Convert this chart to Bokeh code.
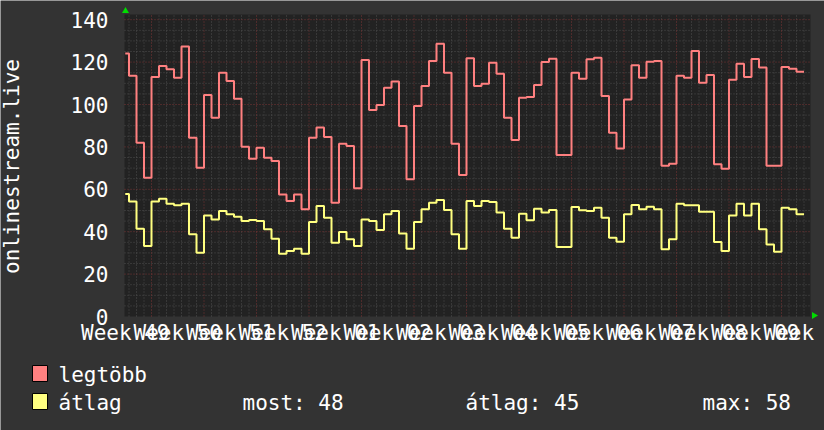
from math import pi
from bokeh.plotting import figure
from bokeh.models import Range1d, FixedTicker
from bokeh.core.properties import value
from bokeh.embed import file_html
from bokeh.resources import INLINE

# ---- data (daily values) ----
legtobb = [124.0, 113.6, 82.0, 65.5, 113.0, 118.2, 116.6, 112.6, 127.3, 84.3,
           70.2, 104.5, 93.8, 115.0, 111.1, 102.7, 80.1, 74.4, 79.6, 74.9,
           73.3, 57.6, 54.5, 57.6, 50.6, 84.3, 89.1, 84.7, 53.7, 81.5,
           80.4, 60.5, 121.0, 97.4, 99.8, 107.9, 110.8, 89.9, 64.7, 99.3,
           108.7, 120.5, 128.7, 115.0, 81.5, 66.7, 121.8, 108.7, 109.8, 119.7,
           114.5, 93.8, 83.3, 103.2, 103.5, 109.2, 120.0, 121.6, 76.2, 76.2,
           115.0, 112.2, 121.3, 122.1, 104.0, 86.7, 79.2, 102.3, 118.5, 112.6,
           120.2, 120.5, 71.1, 72.1, 113.6, 112.6, 125.2, 110.3, 113.9, 71.8,
           69.7, 111.7, 119.2, 113.0, 121.5, 117.4, 71.1, 71.1, 117.7, 116.9,
           115.5]
atlag = [57.8, 54.2, 41.4, 33.3, 54.2, 55.6, 53.2, 52.5, 53.2, 38.8,
         30.1, 47.7, 45.8, 49.8, 48.2, 47.1, 45.0, 45.5, 45.0, 41.1,
         36.7, 29.6, 30.9, 32.0, 29.6, 44.6, 52.1, 46.6, 34.8, 39.9,
         36.4, 33.3, 45.8, 45.0, 40.8, 48.2, 49.8, 39.1, 32.0, 44.6,
         50.6, 53.7, 55.0, 50.2, 38.8, 32.0, 54.5, 52.1, 54.5, 54.0,
         49.0, 41.4, 37.2, 48.5, 45.4, 50.8, 49.0, 50.2, 32.8, 32.8,
         51.7, 50.1, 49.8, 51.3, 46.6, 37.2, 35.3, 48.2, 52.6, 50.6,
         51.8, 50.6, 31.7, 36.4, 53.2, 52.5, 52.5, 49.4, 49.4, 35.1,
         30.9, 47.7, 53.2, 47.7, 53.2, 41.1, 34.0, 30.6, 51.3, 50.6,
         48.2]
week_labels = ["Week 49", "Week 50", "Week 51", "Week 52", "Week 01", "Week 02",
               "Week 03", "Week 04", "Week 05", "Week 06", "Week 07", "Week 08",
               "Week 09", "Week"]
y_ticks = [0, 20, 40, 60, 80, 100, 120, 140]
series_names = ["legtöbb", "átlag"]
y_title = "onlinestream.live"

# ---- geometry (canvas pixels -> data units) ----
W, H = 824, 430
PX_DAY = 7.5          # pixels per day
PX_UNIT = 2.12        # pixels per value unit
DAY1_PX = 128.5       # canvas x of the first midnight (x = 1)
ZERO_PX = 316.0       # canvas y of value 0

def dx(px):
    return 1 + (px - DAY1_PX) / PX_DAY

def dy(py):
    return (ZERO_PX - py) / PX_UNIT

X0 = dx(124)
X_PLOT_END = dx(810)
Y_PLOT_END = dy(14)

FONT = "DejaVu Sans Mono"
FS = "21px"
WHITE = "#ffffff"
RED = "#ff8080"
YEL = "#ffff80"
BACK = "#333333"
CANVAS = "#222222"
GREEN = "#00dd00"

p = figure(width=W, height=H, output_backend="svg", toolbar_location=None,
           x_range=Range1d(dx(0), dx(W)), y_range=Range1d(dy(H), dy(0)),
           min_border=0, background_fill_color=BACK, border_fill_color=BACK,
           outline_line_color=None)
p.grid.grid_line_color = None

# plot area
p.quad(left=[X0], right=[X_PLOT_END], bottom=[0], top=[Y_PLOT_END],
       fill_color=CANVAS, line_color=None)

n_days = len(legtobb)
major_x = [d for d in range(1, n_days + 1) if (d - 4) % 7 == 0]
minor_x = [d for d in range(1, n_days + 1) if (d - 4) % 7 != 0]
minor_y = [v for v in range(5, 145, 5) if v % 20 != 0]
major_y = [v for v in y_ticks if v > 0]

def vlines(xs, color):
    p.segment(x0=xs, y0=[0] * len(xs), x1=xs, y1=[Y_PLOT_END] * len(xs),
              line_color=color, line_dash="1 2", line_width=1)

def hlines(ys, color):
    p.segment(x0=[X0] * len(ys), y0=ys, x1=[X_PLOT_END] * len(ys), y1=ys,
              line_color=color, line_dash="1 2", line_width=1)

vlines(minor_x, "#4e4e4e")
hlines(minor_y, "#4e4e4e")
vlines(major_x, "#7a3535")
hlines(major_y, "#7a3535")

# step series
xs = [X0 + 0.1] + list(range(1, n_days + 1))
p.step(xs, legtobb + [legtobb[-1]], mode="after", line_color=RED, line_width=2)
p.step(xs, atlag + [atlag[-1]], mode="after", line_color=YEL, line_width=2)

# axis arrows
p.scatter([dx(125)], [dy(10.5)], marker="triangle", size=7,
          fill_color=GREEN, line_color=None)
p.scatter([dx(813.5)], [dy(315)], marker="triangle", size=7, angle=-pi / 2,
          fill_color=GREEN, line_color=None)

# axes, fixed inside the canvas
label_ticks = [0.5 + 7 * k for k in range(len(week_labels) - 1)] + [88.97]
p.xaxis.fixed_location = 0
p.yaxis.fixed_location = X0
p.xaxis.ticker = FixedTicker(ticks=label_ticks)
p.xaxis.major_label_overrides = {t: lab for t, lab in zip(label_ticks, week_labels)}
p.yaxis.ticker = FixedTicker(ticks=y_ticks)
for ax in (p.xaxis, p.yaxis):
    ax.axis_line_color = None
    ax.major_tick_line_color = None
    ax.minor_tick_line_color = None
    ax.major_tick_out = 0
    ax.major_tick_in = 0
    ax.major_label_text_font = FONT
    ax.major_label_text_font_size = FS
    ax.major_label_text_color = WHITE
p.xaxis.major_label_standoff = 4
p.yaxis.major_label_standoff = 16

# y title
p.text(x=[dx(11.7)], y=[dy(166)], text=[y_title], angle=pi / 2,
       text_font=value(FONT), text_font_size=FS, text_color=WHITE,
       text_align="center", text_baseline="middle")

# legend
most = round(atlag[-1])
avg = round(sum(atlag) / len(atlag))
mx = round(max(atlag))
p.quad(left=[dx(32)] * 2, right=[dx(47)] * 2, top=[dy(365), dy(393)], bottom=[dy(381), dy(409)],
       fill_color=[RED, YEL], line_color="black", line_width=1)
p.text(x=[dx(58), dx(58), dx(242), dx(465), dx(702)],
       y=[dy(374), dy(402), dy(402), dy(402), dy(402)],
       text=[series_names[0], series_names[1], f"most: {most}", f"átlag: {avg}", f"max: {mx}"],
       text_font=value(FONT), text_font_size=FS, text_color=WHITE,
       text_align="left", text_baseline="middle")

open("out.html", "w").write(file_html(p, INLINE))
